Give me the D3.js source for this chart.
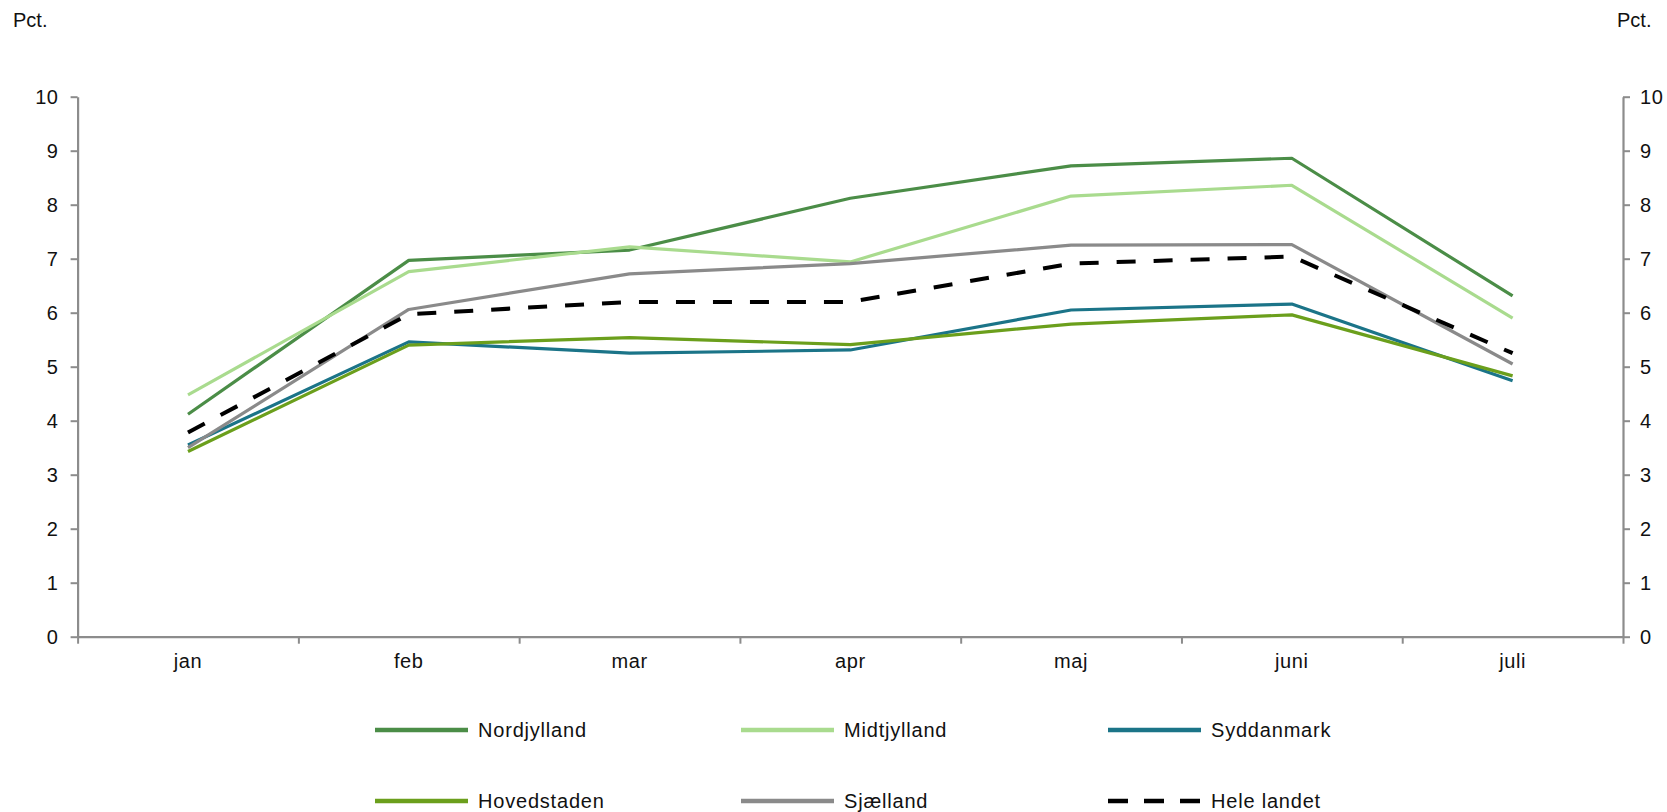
<!DOCTYPE html>
<html>
<head>
<meta charset="utf-8">
<script src="https://cdn.jsdelivr.net/npm/d3@7"></script>
<style>
  html, body { margin: 0; padding: 0; background: #fff; }
  svg { display: block; }
  text { font-family: "Liberation Sans", Arial, sans-serif; fill: #111; }
</style>
</head>
<body>
<svg id="chart" width="1667" height="812"></svg>
<script>
const months = ["jan", "feb", "mar", "apr", "maj", "juni", "juli"];
const yTicks = [0, 1, 2, 3, 4, 5, 6, 7, 8, 9, 10];
const seriesNames = ["Nordjylland", "Midtjylland", "Syddanmark", "Hovedstaden", "Sjælland", "Hele landet"];
const nordjylland = [4.12, 6.97, 7.16, 8.12, 8.72, 8.86, 6.31];
const midtjylland = [4.48, 6.76, 7.22, 6.94, 8.16, 8.36, 5.90];
const syddanmark  = [3.55, 5.46, 5.25, 5.31, 6.05, 6.16, 4.74];
const hovedstaden = [3.43, 5.40, 5.54, 5.41, 5.79, 5.96, 4.83];
const sjaelland   = [3.50, 6.06, 6.72, 6.91, 7.25, 7.26, 5.05];
const heleLandet  = [3.78, 5.97, 6.20, 6.20, 6.91, 7.04, 5.25];
const unitLabel = "Pct.";

const seriesValues = [nordjylland, midtjylland, syddanmark, hovedstaden, sjaelland, heleLandet];
const colors = ["#4b8d47", "#a9db8e", "#1b7488", "#6b9f1c", "#8a8a8a", "#000000"];

const svg = d3.select("#chart");
const L = 77.6, R = 1623, T = 96.7, B = 636.7;

const x = d3.scaleBand().domain(months).range([L, R]).padding(0);
const xEdge = d3.scaleLinear().domain([0, months.length]).range([L, R]);
const y = d3.scaleLinear().domain([0, 10]).range([B, T]);

const axisColor = "#8c8c8c";

// Left axis
const gl = svg.append("g").attr("transform", `translate(${L},0)`)
  .call(d3.axisLeft(y).tickValues(yTicks).tickSize(7).tickSizeOuter(0).tickPadding(12).tickFormat(d3.format("d")));
// Right axis
const gr = svg.append("g").attr("transform", `translate(${R},0)`)
  .call(d3.axisRight(y).tickValues(yTicks).tickSize(7).tickSizeOuter(0).tickPadding(10).tickFormat(d3.format("d")));
// Bottom axis: edge ticks
const gbt = svg.append("g").attr("transform", `translate(0,${B})`)
  .call(d3.axisBottom(xEdge).tickValues(d3.range(months.length + 1)).tickSize(7).tickSizeOuter(0).tickFormat(""));
// Bottom labels
const gb = svg.append("g").attr("transform", `translate(0,${B})`)
  .call(d3.axisBottom(x).tickSize(0).tickPadding(17));
gb.select(".domain").remove();

[gl, gr, gbt].forEach(g => {
  g.select(".domain").attr("stroke", axisColor).attr("stroke-width", 2.2);
  g.selectAll(".tick line").attr("stroke", axisColor).attr("stroke-width", 2);
});
[gl, gr, gb].forEach(g => {
  g.selectAll(".tick text")
    .style("font-family", '"Liberation Sans", Arial, sans-serif')
    .style("font-size", "20px")
    .style("letter-spacing", "0.6px")
    .attr("fill", "#111");
});

// Unit labels
svg.append("text").attr("x", 13).attr("y", 27).style("font-size", "20px").text(unitLabel);
svg.append("text").attr("x", 1617).attr("y", 27).style("font-size", "20px").text(unitLabel);

// Lines
const line = d3.line()
  .x((d, i) => x(months[i]) + x.bandwidth() / 2)
  .y(d => y(d));

seriesValues.forEach((vals, k) => {
  const dashed = k === 5;
  svg.append("path")
    .datum(vals)
    .attr("fill", "none")
    .attr("stroke", colors[k])
    .attr("stroke-width", dashed ? 4 : 3.2)
    .attr("stroke-linejoin", "round")
    .attr("stroke-dasharray", dashed ? "19,18" : null)
    .attr("d", line);
});

// Legend
const legX = [375, 741, 1108];
const legY = [730, 801];
const legLen = 93;
seriesNames.forEach((name, k) => {
  const col = k % 3, row = Math.floor(k / 3);
  const lx = legX[col], ly = legY[row];
  const dashed = k === 5;
  svg.append("line")
    .attr("x1", lx).attr("x2", lx + legLen)
    .attr("y1", ly).attr("y2", ly)
    .attr("stroke", colors[k])
    .attr("stroke-width", 4.5)
    .attr("stroke-dasharray", dashed ? "20,16" : null);
  svg.append("text")
    .attr("x", lx + legLen + 10)
    .attr("y", ly)
    .attr("dy", "0.35em")
    .style("font-size", "20px")
    .style("letter-spacing", "0.8px")
    .text(name);
});
</script>
</body>
</html>
